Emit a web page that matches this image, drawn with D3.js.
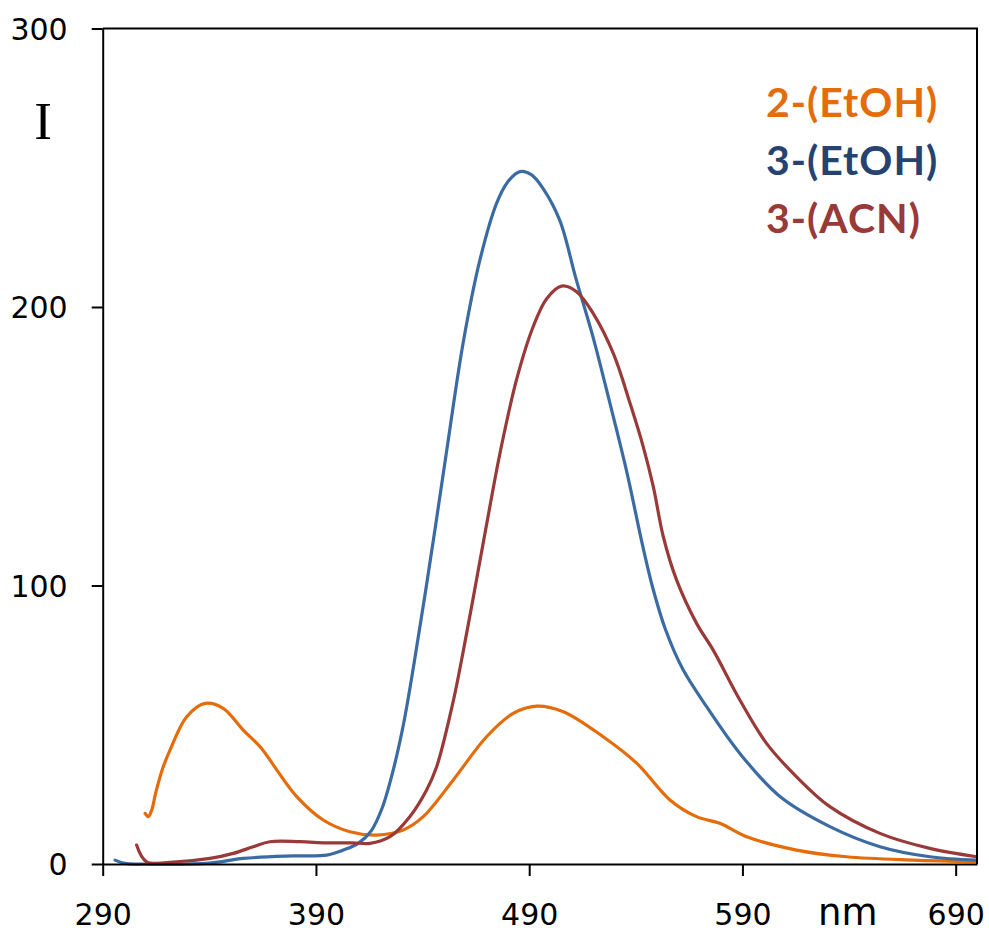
<!DOCTYPE html>
<html>
<head>
<meta charset="utf-8">
<script src="https://cdn.jsdelivr.net/npm/d3@7/dist/d3.min.js"></script>
<style>
  html, body { margin: 0; padding: 0; background: #fff; }
  svg { display: block; }
</style>
</head>
<body>
<div id="chart"></div>
<script>
// emission spectra, wavelength (nm) vs intensity (I)
const seriesNames = ['2-(EtOH)', '3-(EtOH)', '3-(ACN)'];

const etoh2Nm = [309.9, 311.4, 313, 315, 318, 321.6, 329.4, 338, 346.5, 355.9, 364.5, 371.6, 381, 393.4, 405.9, 418.5, 430.9, 440.3, 454.4, 470, 482.5, 493.5, 506, 524.7, 540.4, 556, 568.5, 579.4, 592, 615.4, 638.8, 670, 700];
const etoh2I  = [18.2, 17, 19.4, 26, 34, 41, 52.9, 57.7, 55.9, 48.1, 41.5, 33.8, 24.2, 15.8, 11.6, 10.4, 12.2, 17, 30.2, 45.7, 54.1, 56.7, 54.7, 45.7, 36.2, 23, 17, 14.6, 9.8, 5, 2.6, 1.4, 0.8];

const etoh3Nm = [295.8, 300.5, 310, 340, 356, 379.4, 395, 402.8, 410, 416, 421, 426, 431, 436, 441, 446, 452, 459, 466.9, 474.7, 480, 485.7, 491, 497, 504.4, 512, 520, 528, 536, 543, 548, 554, 562, 573.2, 588.8, 607.6, 631, 654.5, 677.9, 700];
const etoh3I  = [1.4, 0.2, 0, 0.3, 2, 2.9, 3.2, 5, 7.5, 12, 20, 33, 50, 72, 96, 121, 152, 187, 216.9, 237.2, 245, 248.6, 247.5, 242, 231, 210, 189, 165, 140, 115, 99, 84, 70, 56.5, 39.7, 24.2, 13.4, 6.2, 2.6, 1.4];

const acn3Nm = [305.9, 310.6, 324.7, 340.3, 351.2, 360.6, 368.4, 382.5, 395, 407.5, 415.3, 424.7, 434, 441.9, 446.6, 454.4, 460.7, 466, 471.6, 476.3, 484.1, 491.9, 498.2, 505.2, 512.2, 520, 529.4, 537.3, 543.5, 548.2, 552.9, 559.1, 568.5, 576.3, 588.8, 601.3, 615.4, 631, 654.5, 677.9, 700];
const acn3I  = [6.8, 0.8, 0.8, 2, 3.8, 6.2, 8, 8, 7.6, 7.6, 7.4, 9.8, 17, 26.6, 34.9, 58.5, 83, 105, 128.5, 147.5, 174, 193, 203, 207.5, 205.5, 197.7, 183.4, 165.4, 149.8, 135.5, 117.5, 102, 86.4, 76.8, 58.9, 43.3, 31.3, 20.6, 11, 5.6, 2.6];

const xTicks = [290, 390, 490, 590, 690];
const yTicks = [0, 100, 200, 300];

const lineColors = ['#E46C0A', '#3B6BA3', '#993A38'];
const legendColors = ['#E46C0A', '#254270', '#983A38'];

const W = 989, H = 933;
const plot = { left: 102.7, right: 977, top: 28.5, bottom: 864 };

const x = d3.scaleLinear().domain([290, 700]).range([plot.left, plot.right]);
const y = d3.scaleLinear().domain([0, 300]).range([plot.bottom, plot.top]);

const svg = d3.select('#chart').append('svg')
  .attr('width', W)
  .attr('height', H);

const series = [
  { name: seriesNames[0], nm: etoh2Nm, val: etoh2I, color: lineColors[0] },
  { name: seriesNames[1], nm: etoh3Nm, val: etoh3I, color: lineColors[1] },
  { name: seriesNames[2], nm: acn3Nm, val: acn3I, color: lineColors[2] }
];

svg.append('clipPath').attr('id', 'clip')
  .append('rect')
  .attr('x', plot.left).attr('y', plot.top)
  .attr('width', plot.right - plot.left).attr('height', plot.bottom - plot.top + 2);

const line = d3.line()
  .x(d => x(d[0]))
  .y(d => y(d[1]))
  .curve(d3.curveCatmullRom.alpha(0.5));

svg.append('g').attr('clip-path', 'url(#clip)')
  .selectAll('path')
  .data(series)
  .join('path')
  .attr('d', s => line(s.nm.map((n, i) => [n, s.val[i]])))
  .attr('fill', 'none')
  .attr('stroke', s => s.color)
  .attr('stroke-width', 3.2)
  .attr('stroke-linejoin', 'round')
  .attr('stroke-linecap', 'round');

// frame (top + right)
svg.append('path')
  .attr('d', `M${plot.left},${plot.top}H${plot.right}V${plot.bottom}`)
  .attr('fill', 'none')
  .attr('stroke', '#000')
  .attr('stroke-width', 2);

// axes
const xAxis = svg.append('g')
  .attr('transform', `translate(0,${plot.bottom})`)
  .call(d3.axisBottom(x).tickValues(xTicks).tickSize(12).tickSizeOuter(0));
xAxis.select('.domain').attr('stroke-width', 2);
xAxis.selectAll('.tick line').attr('stroke-width', 2);
xAxis.selectAll('.tick text')
  .attr('y', 61).attr('dy', null)
  .attr('font-family', 'DejaVu Sans, Verdana, sans-serif')
  .attr('font-size', 30)
  .attr('fill', '#000');

const yAxis = svg.append('g')
  .attr('transform', `translate(${plot.left},0)`)
  .call(d3.axisLeft(y).tickValues(yTicks).tickSize(11).tickSizeOuter(0));
yAxis.select('.domain').attr('stroke-width', 2);
yAxis.selectAll('.tick line').attr('stroke-width', 2);
yAxis.selectAll('.tick text')
  .attr('x', -35)
  .attr('dy', '0.36em')
  .attr('font-family', 'DejaVu Sans, Verdana, sans-serif')
  .attr('font-size', 30)
  .attr('fill', '#000');

// axis titles
svg.append('text')
  .attr('x', 818).attr('y', 925)
  .attr('font-family', 'DejaVu Sans, Verdana, sans-serif')
  .attr('font-size', 37)
  .text('nm');

svg.append('text')
  .attr('x', 43).attr('y', 139)
  .attr('text-anchor', 'middle')
  .attr('font-family', 'Liberation Serif, Times New Roman, serif')
  .attr('font-size', 53)
  .text('I');

// legend
svg.append('g')
  .selectAll('text')
  .data(seriesNames)
  .join('text')
  .attr('x', 766)
  .attr('y', (d, i) => 117 + i * 58)
  .attr('font-family', 'Lato, Open Sans, sans-serif')
  .attr('font-weight', 'bold')
  .attr('font-size', 41)
  .attr('letter-spacing', 1)
  .attr('fill', (d, i) => legendColors[i])
  .text(d => d);
</script>
</body>
</html>
